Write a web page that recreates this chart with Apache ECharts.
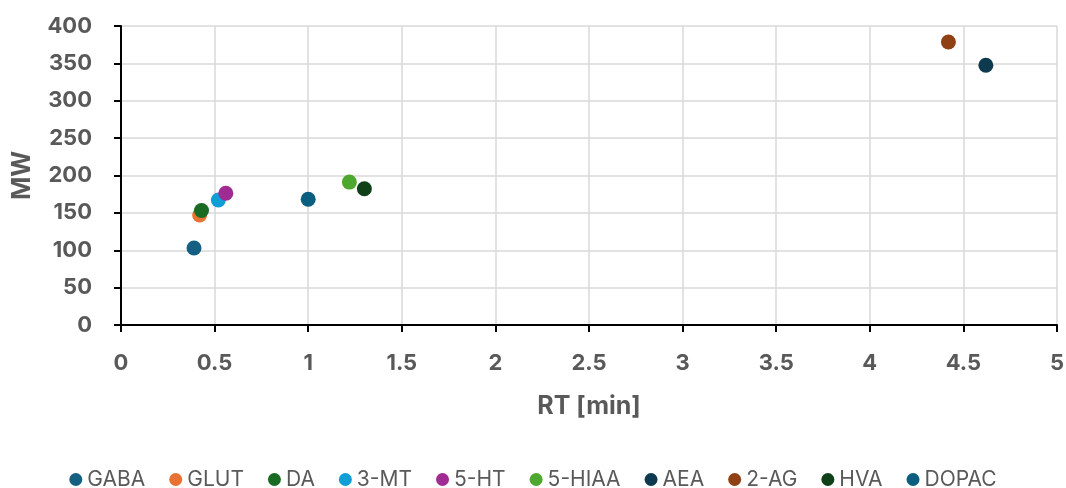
<!DOCTYPE html>
<html>
<head>
<meta charset="utf-8">
<script src="https://cdn.jsdelivr.net/npm/echarts@6/dist/echarts.min.js"></script>
<style>
  html, body { margin: 0; padding: 0; background: #fff; }
  #chart { width: 1066px; height: 488px; }
</style>
</head>
<body>
<div id="chart"></div>
<script>
// compounds, retention time [min] and molecular weight
const names = ['GABA', 'GLUT', 'DA', '3-MT', '5-HT', '5-HIAA', 'AEA', '2-AG', 'HVA', 'DOPAC']
const rt = [0.39, 0.42, 0.43, 0.52, 0.56, 1.22, 4.62, 4.42, 1.30, 1.00]
const mw = [103.1, 147.1, 153.2, 167.2, 176.2, 191.2, 347.5, 378.5, 182.2, 168.2]
const colors = ['#156082', '#E97132', '#196B24', '#0F9ED5', '#A02B93', '#4EA72E', '#0E3A50', '#8F4014', '#0F4017', '#0A5E80']

const labelColor = '#595959'
const chart = echarts.init(document.getElementById('chart'))

chart.setOption({
  backgroundColor: '#fff',
  animation: false,
  textStyle: { fontFamily: 'Inter, Roboto, sans-serif' },
  grid: { left: 121, right: 9, top: 26, bottom: 163, outerBoundsMode: 'none' },
  legend: {
    top: 464,
    left: 'center',
    icon: 'circle',
    itemWidth: 13,
    itemHeight: 13,
    itemGap: 24,
    textStyle: { color: labelColor, fontSize: 21 },
    data: names
  },
  xAxis: {
    type: 'value',
    min: 0,
    max: 5,
    interval: 0.5,
    name: 'RT [min]',
    nameLocation: 'middle',
    nameGap: 69,
    nameTextStyle: { color: labelColor, fontSize: 25, fontWeight: 'bold' },
    axisLine: { show: true, onZero: false, lineStyle: { color: '#000', width: 2 } },
    axisTick: { show: true, length: 7, lineStyle: { color: '#000', width: 2 } },
    axisLabel: { color: labelColor, fontSize: 22, fontWeight: 'bold', margin: 27 },
    splitLine: { show: true, lineStyle: { color: '#d9d9d9', width: 1.5 } }
  },
  yAxis: {
    type: 'value',
    min: 0,
    max: 400,
    interval: 50,
    name: 'MW',
    nameLocation: 'middle',
    nameGap: 86,
    nameRotate: 90,
    nameTextStyle: { color: labelColor, fontSize: 25, fontWeight: 'bold' },
    axisLine: { show: true, onZero: false, lineStyle: { color: '#000', width: 2 } },
    axisTick: { show: true, length: 7, lineStyle: { color: '#000', width: 2 } },
    axisLabel: { color: labelColor, fontSize: 22, fontWeight: 'bold', margin: 29 },
    splitLine: { show: true, lineStyle: { color: '#d9d9d9', width: 1.5 } }
  },
  series: names.map((name, i) => ({
    type: 'scatter',
    name: name,
    data: [[rt[i], mw[i]]],
    symbol: 'circle',
    symbolSize: 15,
    itemStyle: { color: colors[i], opacity: 1 }
  }))
})
</script>
</body>
</html>
